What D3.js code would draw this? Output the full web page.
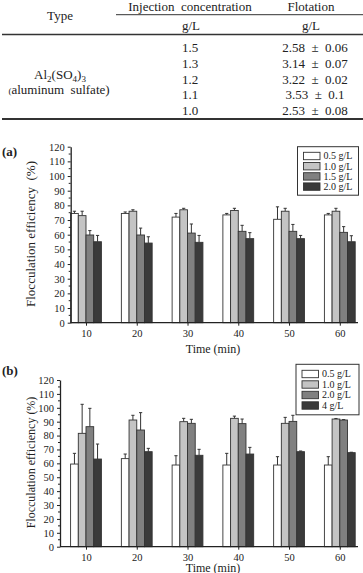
<!DOCTYPE html>
<html><head><meta charset="utf-8">
<script src="https://cdn.jsdelivr.net/npm/d3@7"></script>
<style>
html,body{margin:0;padding:0;background:#fff;}
svg text{font-family:"Liberation Serif",serif !important;fill:#222;}
</style></head>
<body>
<svg id="c" width="363" height="573" font-family="Liberation Serif"></svg>
<script>
// ---------- data ----------
const tableConc = ["1.5","1.3","1.2","1.1","1.0"];
const tableFlot = ["2.58 \u00a0±\u00a0 0.06","3.14 \u00a0±\u00a0 0.07","3.22 \u00a0±\u00a0 0.02","3.53 \u00a0±\u00a0 0.1","2.53 \u00a0±\u00a0 0.08"];

const times = [10,20,30,40,50,60];
const yTicks = [0,10,20,30,40,50,60,70,80,90,100,110,120];

const seriesA = ["0.5 g/L","1.0 g/L","1.5 g/L","2.0 g/L"];
const a05 = [74.5,74.5,72.0,73.5,70.5,73.5];
const a05err = [1.5,1.0,2.5,1.0,8.5,1.0];
const a10 = [73.0,76.0,77.0,76.5,76.0,76.0];
const a10err = [3.0,1.0,1.0,1.5,2.0,2.0];
const a15 = [59.8,59.8,61.1,62.3,62.3,61.6];
const a15err = [3.0,4.7,6.2,4.1,4.7,3.9];
const a20 = [55.2,54.3,54.8,57.3,57.3,55.2];
const a20err = [4.3,4.3,4.7,4.1,2.2,4.1];

const seriesB = ["0.5 g/L","1.0 g/L","2.0 g/L","4 g/L"];
const b05 = [59.5,63.4,58.8,58.8,58.8,58.8];
const b05err = [7.7,3.3,6.7,8.4,6.0,6.0];
const b10 = [81.6,91.2,90.0,92.4,88.8,91.9];
const b10err = [20.9,3.4,2.4,1.6,4.3,0.4];
const b20 = [86.4,84.0,88.8,88.6,90.2,91.2];
const b20err = [13.2,12.5,2.9,3.3,4.4,0.3];
const b4 = [63.1,68.4,65.8,66.7,68.4,67.7];
const b4err = [10.8,2.4,4.3,4.8,0.5,0.3];

const fills = ["#ffffff","#c4c4c4","#808080","#3a3a3a"];
const FONT = "Liberation Serif";

// ---------- table ----------
const svg = d3.select("#c");
const tb = svg.append("g");
function t(x,y,s,size,anchor){return tb.append("text").attr("x",x).attr("y",y).attr("font-family",FONT).attr("font-size",size||13).attr("text-anchor",anchor||"middle").text(s);}
t(60,20,"Type");
t(190,11,"Injection \u00a0concentration");
t(311,11,"Flotation");
t(191,30,"g/L");
t(311,30,"g/L");
tb.append("line").attr("x1",116).attr("x2",363).attr("y1",14.7).attr("y2",14.7).attr("stroke","#333").attr("stroke-width",1);
tb.append("line").attr("x1",2).attr("x2",363).attr("y1",34.5).attr("y2",34.5).attr("stroke","#333").attr("stroke-width",1.3);
tb.append("line").attr("x1",2).attr("x2",363).attr("y1",119).attr("y2",119).attr("stroke","#333").attr("stroke-width",1.8);
const rowY = d3.scalePoint().domain(d3.range(tableConc.length)).range([52,115]);
tableConc.forEach((c,i)=>{t(190,rowY(i),c); t(315,rowY(i),tableFlot[i]);});
const al = tb.append("text").attr("x",60).attr("y",79).attr("font-family",FONT).attr("font-size",13).attr("text-anchor","middle");
al.append("tspan").text("Al");
al.append("tspan").attr("font-size",9).attr("dy",3).text("2");
al.append("tspan").attr("dy",-3).text("(SO");
al.append("tspan").attr("font-size",9).attr("dy",3).text("4");
al.append("tspan").attr("dy",-3).text(")");
al.append("tspan").attr("font-size",9).attr("dy",3).text("3");
const as = tb.append("text").attr("x",59).attr("y",94).attr("font-family",FONT).attr("font-size",13).attr("text-anchor","middle");
as.append("tspan").attr("font-size",9).text("(");
as.append("tspan").text("aluminum \u00a0sulfate)");

// ---------- charts ----------
function chart(opt){
  const g = svg.append("g");
  const x = d3.scaleLinear().domain([10,60]).range([86,339.8]);
  const y = d3.scaleLinear().domain([0,120]).range([opt.y0,opt.y120]);
  const bw = 7.7;
  opt.vals.forEach((vals,si)=>{
    const gs = g.append("g");
    const cx = (d)=>x(d)-2*bw+si*bw+bw/2;
    gs.selectAll("line.e").data(times).join("line")
      .attr("x1",d=>cx(d)).attr("x2",d=>cx(d))
      .attr("y1",(d,i)=>y(vals[i])).attr("y2",(d,i)=>y(vals[i]+opt.errs[si][i]))
      .attr("stroke","#333").attr("stroke-width",1);
    gs.selectAll("line.c").data(times).join("line")
      .attr("x1",d=>cx(d)-1.6).attr("x2",d=>cx(d)+1.6)
      .attr("y1",(d,i)=>y(vals[i]+opt.errs[si][i])).attr("y2",(d,i)=>y(vals[i]+opt.errs[si][i]))
      .attr("stroke","#333").attr("stroke-width",1);
    gs.selectAll("rect").data(times).join("rect")
      .attr("x",d=>x(d)-2*bw+si*bw).attr("width",bw)
      .attr("y",(d,i)=>y(vals[i])).attr("height",(d,i)=>y(0)-y(vals[i]))
      .attr("fill",fills[si]).attr("stroke","#333").attr("stroke-width",0.9);
  });
  const ya = g.append("g").attr("transform",`translate(${opt.ax},0)`)
    .call(d3.axisLeft(y).tickValues(yTicks).tickSize(3).tickSizeOuter(0).tickPadding(3));
  ya.attr("font-family",FONT);
  ya.select(".domain").attr("stroke","#222").attr("stroke-width",1.3);
  ya.selectAll(".tick line").attr("stroke","#222");
  ya.selectAll(".tick text").attr("font-size",10.5).attr("font-family",FONT).attr("fill","#222");
  g.selectAll("line.minor").data(d3.range(5,120,10)).join("line")
    .attr("x1",opt.ax-2).attr("x2",opt.ax).attr("y1",d=>y(d)).attr("y2",d=>y(d)).attr("stroke","#222");
  const xa = g.append("g").attr("transform",`translate(0,${opt.y0})`)
    .call(d3.axisBottom(x).tickValues(times).tickSize(3).tickPadding(4));
  xa.attr("font-family",FONT);
  xa.select(".domain").remove();
  xa.selectAll(".tick line").attr("stroke","#222");
  xa.selectAll(".tick text").attr("font-size",10.5).attr("font-family",FONT).attr("fill","#222");
  g.append("line").attr("x1",opt.ax).attr("x2",358).attr("y1",opt.y0).attr("y2",opt.y0).attr("stroke","#222").attr("stroke-width",1.3);
  g.append("text").attr("x",213).attr("y",opt.xlabY).attr("font-family",FONT).attr("font-size",12).attr("text-anchor","middle").text("Time (min)");
  g.append("text").attr("transform",`translate(35,${opt.ylabC}) rotate(-90)`).attr("font-family",FONT).attr("font-size",opt.ylabSize).attr("text-anchor","middle").text(opt.ylab);
  g.append("text").attr("x",2).attr("y",opt.tagY).attr("font-family",FONT).attr("font-size",13).attr("font-weight","bold").text(opt.tag);
  const L = opt.leg;
  g.append("rect").attr("x",L.x).attr("y",L.y).attr("width",L.w).attr("height",L.h).attr("fill","#fff").attr("stroke","#333").attr("stroke-width",1);
  opt.names.forEach((n,i)=>{
    const cy = L.r0 + i*L.dr;
    g.append("rect").attr("x",L.x+6).attr("y",cy-3.7).attr("width",16.5).attr("height",7.4).attr("fill",fills[i]).attr("stroke","#333").attr("stroke-width",0.9);
    g.append("text").attr("x",L.x+26).attr("y",cy+3.4).attr("font-family",FONT).attr("font-size",10).text(n);
  });
}
chart({y0:322.7,y120:146.7,ax:70.7,vals:[a05,a10,a15,a20],errs:[a05err,a10err,a15err,a20err],
  names:seriesA,xlabY:353,ylabC:234,ylabSize:13,ylab:"Flocculation efficiency \u00a0(%)",tag:"(a)",tagY:156,
  leg:{x:297.5,y:146.7,w:61,h:48.5,r0:156,dr:10.2}});
chart({y0:546.7,y120:380,ax:60,vals:[b05,b10,b20,b4],errs:[b05err,b10err,b20err,b4err],
  names:seriesB,xlabY:572,ylabC:462.5,ylabSize:12,ylab:"Flocculation efficiency (%)",tag:"(b)",tagY:374.5,
  leg:{x:296,y:364.3,w:63,h:50.5,r0:374,dr:10.5}});
</script>
</body></html>
